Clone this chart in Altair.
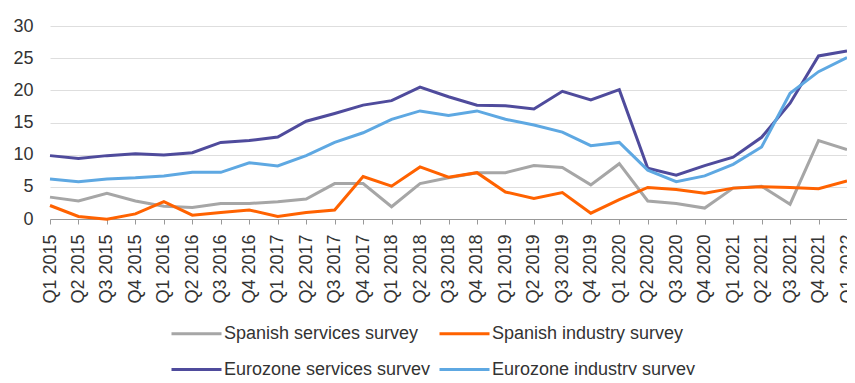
import altair as alt
import pandas as pd

quarters = [f"Q{q} {y}" for y in range(2015, 2022) for q in range(1, 5)] + ["Q1 2022"]

spanish_services = [3.4, 2.8, 4.0, 2.8, 2.0, 1.8, 2.4, 2.4, 2.7, 3.1, 5.5, 5.5, 1.9, 5.5,
                    6.4, 7.2, 7.2, 8.3, 8.0, 5.3, 8.6, 2.8, 2.4, 1.7, 4.8, 5.1, 2.3, 12.2, 10.8]
spanish_industry = [2.1, 0.4, -0.05, 0.8, 2.7, 0.6, 1.0, 1.4, 0.4, 1.0, 1.4, 6.6, 5.1, 8.1,
                    6.5, 7.2, 4.2, 3.2, 4.1, 0.9, 3.0, 4.9, 4.6, 4.0, 4.8, 5.0, 4.9, 4.7, 5.9]
eurozone_services = [9.85, 9.4, 9.85, 10.15, 9.95, 10.3, 11.9, 12.2, 12.75, 15.2, 16.4, 17.7,
                     18.4, 20.5, 19.0, 17.7, 17.6, 17.1, 19.85, 18.5, 20.1, 7.9, 6.8, 8.3,
                     9.6, 12.7, 18.0, 25.35, 26.1]
eurozone_industry = [6.2, 5.8, 6.2, 6.4, 6.7, 7.25, 7.25, 8.75, 8.25, 9.85, 11.9, 13.4, 15.5,
                     16.8, 16.1, 16.8, 15.5, 14.6, 13.5, 11.4, 11.9, 7.6, 5.8, 6.7, 8.5, 11.2,
                     19.55, 22.9, 25.1]

series_names = ["Spanish services survey", "Spanish industry survey",
                "Eurozone services survey", "Eurozone industry survey"]
series_values = [spanish_services, spanish_industry, eurozone_services, eurozone_industry]
series_colors = ["#A6A6A6", "#FF6200", "#4F4B9C", "#5EA8E2"]

rows = []
for name, vals in zip(series_names, series_values):
    for q, v in zip(quarters, vals):
        rows.append({"quarter": q, "value": v, "series": name})
df = pd.DataFrame(rows)

FONT = "Liberation Sans"
TXT = "#333333"

chart = alt.Chart(df).mark_line(strokeWidth=3).encode(
    x=alt.X("quarter:N", sort=quarters, title=None,
            scale=alt.Scale(type="point", padding=0),
            axis=alt.Axis(labelAngle=270, labelFont=FONT, labelFontSize=18,
                          labelColor=TXT, labelPadding=10, tickSize=5,
                          tickColor="#999999", domainColor="#999999",
                          grid=False, labelOverlap=False)),
    y=alt.Y("value:Q", title=None,
            scale=alt.Scale(domain=[0, 30], nice=False),
            axis=alt.Axis(values=[0, 5, 10, 15, 20, 25, 30], domain=False, ticks=False,
                          labelFont=FONT, labelFontSize=18, labelColor=TXT,
                          labelPadding=17, gridColor="#DEDEDE", gridWidth=1)),
    color=alt.Color("series:N", sort=series_names,
                    scale=alt.Scale(domain=series_names, range=series_colors),
                    legend=alt.Legend(orient="none", legendX=120, legendY=281,
                                      columns=2, direction="horizontal", title=None,
                                      symbolType="stroke", symbolSize=2500,
                                      symbolStrokeWidth=3, labelOffset=1,
                                      labelFont=FONT, labelFontSize=18, labelColor=TXT,
                                      columnPadding=2, rowPadding=-30, padding=0,
                                      labelLimit=400)),
).properties(
    width=797, height=193,
    autosize=alt.AutoSizeParams(type="none"),
    padding={"left": 42, "top": 18, "right": 0, "bottom": 156},
).configure_view(stroke=None)

chart.save("out.html", embed_options={"renderer": "svg", "actions": False})
